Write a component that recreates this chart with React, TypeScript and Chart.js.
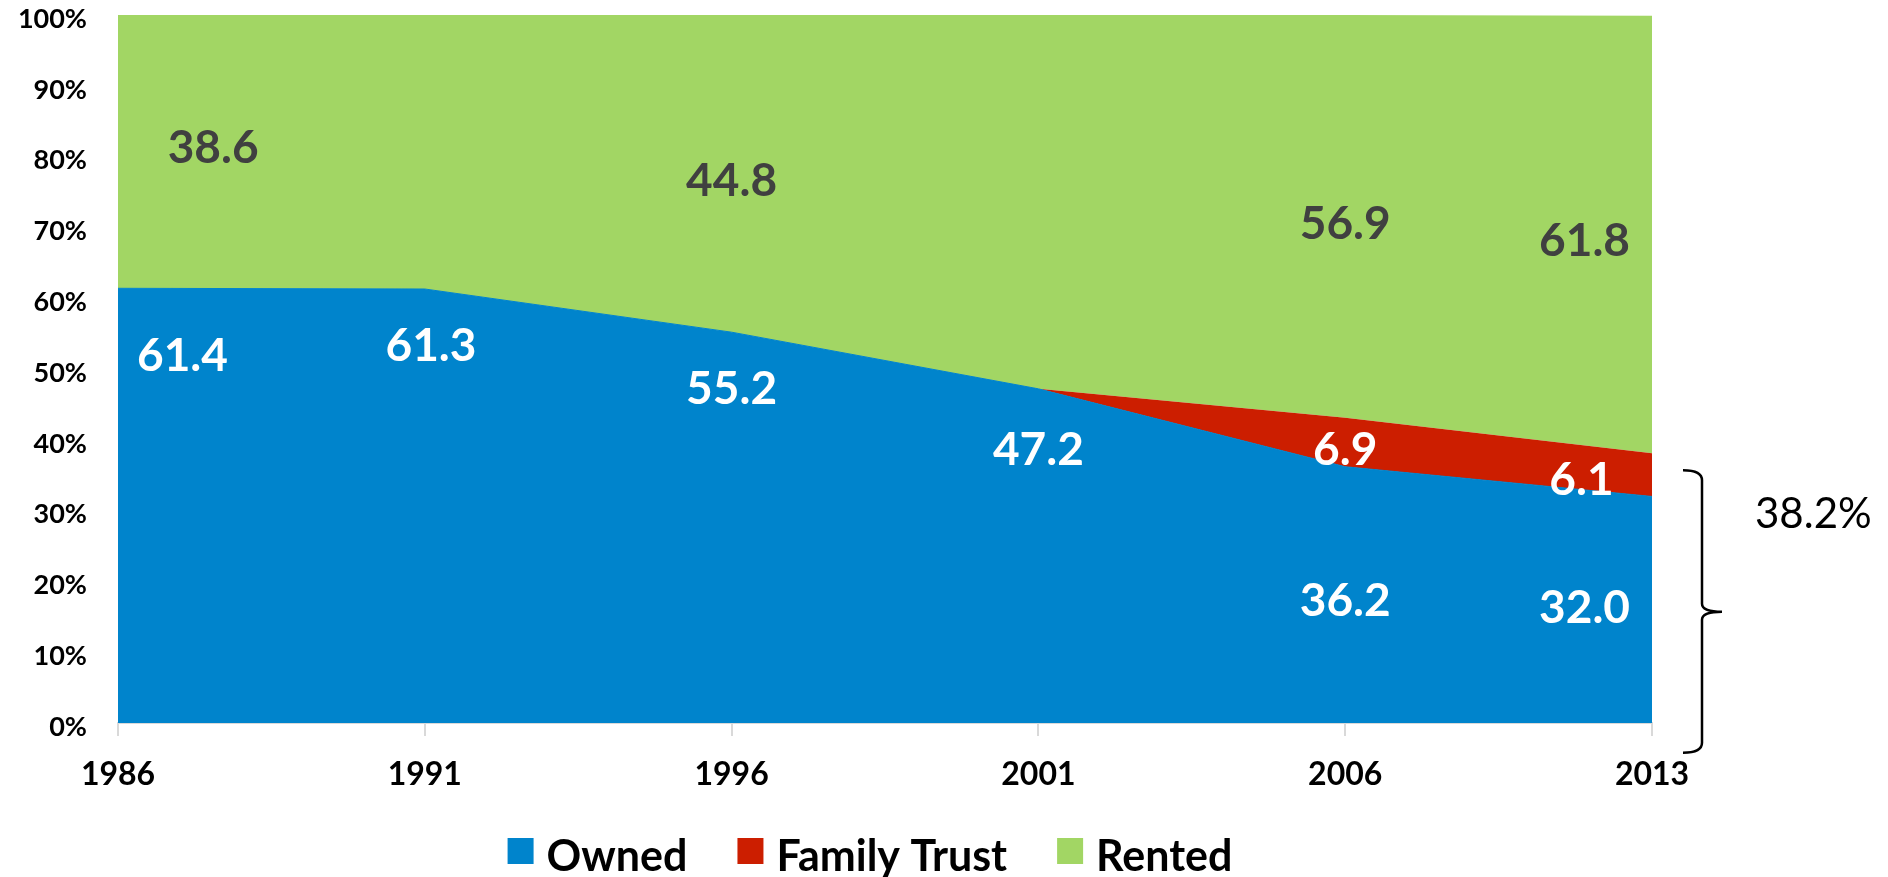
import React, { useEffect, useRef } from "react";
import { Chart, registerables } from "chart.js";

Chart.register(...registerables);

// ---- Data ----
const years = ["1986", "1991", "1996", "2001", "2006", "2013"];
const owned = [61.4, 61.3, 55.2, 47.2, 36.2, 32.0];
const familyTrust = [0, 0, 0, 0, 6.9, 6.1];
const rented = [38.6, 38.7, 44.8, 52.8, 56.9, 61.8];
const seriesNames = ["Owned", "Family Trust", "Rented"];
const seriesColors = ["#0084CC", "#CC1E00", "#A2D664"];
const bracketText = "38.2%";

// ---- Label anchors (category index, percent) ----
const ownedLabelAt: ([number, number] | null)[] = [
  [0.21, 52.1], [1.02, 53.5], [2.0, 47.4], [3.0, 38.8], [4.0, 17.4], [4.78, 16.5],
];
const trustLabelAt: ([number, number] | null)[] = [null, null, null, null, [4.0, 38.8], [4.77, 34.5]];
const rentedLabelAt: ([number, number] | null)[] = [
  [0.31, 81.4], null, [2.0, 76.7], null, [4.0, 70.7], [4.78, 68.3],
];

const labelPlugin = {
  id: "valueLabels",
  afterDatasetsDraw(chart: any) {
    const ctx = chart.ctx;
    const xs = chart.scales.x;
    const ys = chart.scales.y;
    const groups: [number[], ([number, number] | null)[], string][] = [
      [owned, ownedLabelAt, "#FFFFFF"],
      [familyTrust, trustLabelAt, "#FFFFFF"],
      [rented, rentedLabelAt, "#404040"],
    ];
    ctx.save();
    ctx.font = "bold 46px Lato";
    ctx.textAlign = "center";
    ctx.textBaseline = "alphabetic";
    for (const [vals, pos, color] of groups) {
      vals.forEach((v, i) => {
        const p = pos[i];
        if (!p) return;
        const txt = v.toFixed(1);
        const m = ctx.measureText(txt);
        const px = xs.getPixelForValue(p[0]);
        const py = ys.getPixelForValue(p[1]);
        ctx.fillStyle = color;
        ctx.fillText(txt, px, py + m.actualBoundingBoxAscent / 2);
      });
    }
    ctx.restore();
  },
};

const bracketPlugin = {
  id: "bracket",
  afterDraw(chart: any) {
    const ctx = chart.ctx;
    const ys = chart.scales.y;
    const right = chart.chartArea.right;
    const xEnd = right + 31;
    const xMid = right + 50;
    const xTip = right + 70;
    const yTop = ys.getPixelForValue(35.7);
    const yTip = ys.getPixelForValue(15.7);
    const yBot = ys.getPixelForValue(-4.2);
    ctx.save();
    ctx.strokeStyle = "#000000";
    ctx.lineWidth = 2.5;
    ctx.lineJoin = "round";
    ctx.beginPath();
    ctx.moveTo(xEnd, yTop);
    ctx.quadraticCurveTo(xMid, yTop, xMid, yTop + 10);
    ctx.lineTo(xMid, yTip - 8);
    ctx.quadraticCurveTo(xMid, yTip, xTip, yTip);
    ctx.moveTo(xTip, yTip);
    ctx.quadraticCurveTo(xMid, yTip, xMid, yTip + 8);
    ctx.lineTo(xMid, yBot - 10);
    ctx.quadraticCurveTo(xMid, yBot, xEnd, yBot);
    ctx.stroke();
    ctx.font = "42px Lato";
    ctx.fillStyle = "#000000";
    ctx.textAlign = "left";
    ctx.textBaseline = "alphabetic";
    ctx.fillText(bracketText, right + 103, ys.getPixelForValue(27.5));
    ctx.restore();
  },
};

const legendPlugin = {
  id: "customLegend",
  afterDraw(chart: any) {
    const ctx = chart.ctx;
    const area = chart.chartArea;
    ctx.save();
    ctx.font = "bold 43px Lato";
    const box = 26;
    const gapText = 13;
    const gapItem = 50;
    const widths = seriesNames.map((n) => ctx.measureText(n).width);
    const total =
      widths.reduce((a, w) => a + box + gapText + w, 0) + gapItem * (seriesNames.length - 1);
    let x = (area.left + area.right) / 2 - 15 - total / 2;
    const baseline = chart.height - 6;
    ctx.textAlign = "left";
    ctx.textBaseline = "alphabetic";
    seriesNames.forEach((n, i) => {
      ctx.fillStyle = seriesColors[i];
      ctx.fillRect(x, baseline - 33, box, box);
      ctx.fillStyle = "#000000";
      ctx.fillText(n, x + box + gapText, baseline);
      x += box + gapText + widths[i] + gapItem;
    });
    ctx.restore();
  },
};

export default function App() {
  const ref = useRef<HTMLCanvasElement | null>(null);

  useEffect(() => {
    if (!ref.current) return;
    const chart = new Chart(ref.current, {
      type: "line",
      data: {
        labels: years,
        datasets: [
          {
            label: seriesNames[0],
            data: owned,
            backgroundColor: seriesColors[0],
            borderColor: seriesColors[0],
            borderWidth: 1,
            fill: "origin",
            pointRadius: 0,
            tension: 0,
          },
          {
            label: seriesNames[1],
            data: familyTrust,
            backgroundColor: seriesColors[1],
            borderColor: seriesColors[1],
            borderWidth: 0,
            fill: "-1",
            pointRadius: 0,
            tension: 0,
          },
          {
            label: seriesNames[2],
            data: rented,
            backgroundColor: seriesColors[2],
            borderColor: seriesColors[2],
            borderWidth: 0,
            fill: "-1",
            pointRadius: 0,
            tension: 0,
          },
        ],
      },
      options: {
        animation: false,
        responsive: true,
        maintainAspectRatio: false,
        layout: { padding: { top: 15, right: 236, left: 0, bottom: 0 } },
        plugins: {
          legend: { display: false },
          tooltip: { enabled: false },
        },
        scales: {
          x: {
            offset: false,
            grid: {
              display: true,
              drawOnChartArea: false,
              drawTicks: true,
              tickLength: 13,
              color: "#D9D9D9",
              lineWidth: 2,
            },
            border: { display: true, color: "#D9D9D9", width: 2 },
            ticks: {
              color: "#000000",
              font: { family: "Lato", weight: "bold", size: 32 },
              padding: 19,
              maxRotation: 0,
              autoSkip: false,
            },
            afterFit: (s: any) => {
              s.height = 154;
            },
          },
          y: {
            stacked: true,
            min: 0,
            max: 100,
            grid: { display: false, drawTicks: false },
            border: { display: false },
            ticks: {
              stepSize: 10,
              color: "#000000",
              font: { family: "Lato", weight: "bold", size: 27, lineHeight: 1 },
              padding: 31,
              labelOffset: 4,
              callback: (v: any) => `${v}%`,
            },
            afterFit: (s: any) => {
              s.width = 118;
              s.paddingTop = 0;
              s.paddingBottom = 0;
            },
          },
        },
      },
      plugins: [labelPlugin, bracketPlugin, legendPlugin],
    });
    return () => chart.destroy();
  }, []);

  return (
    <div style={{ position: "fixed", left: 0, top: 0, width: "1888px", height: "877px" }}>
      <canvas ref={ref} />
    </div>
  );
}
